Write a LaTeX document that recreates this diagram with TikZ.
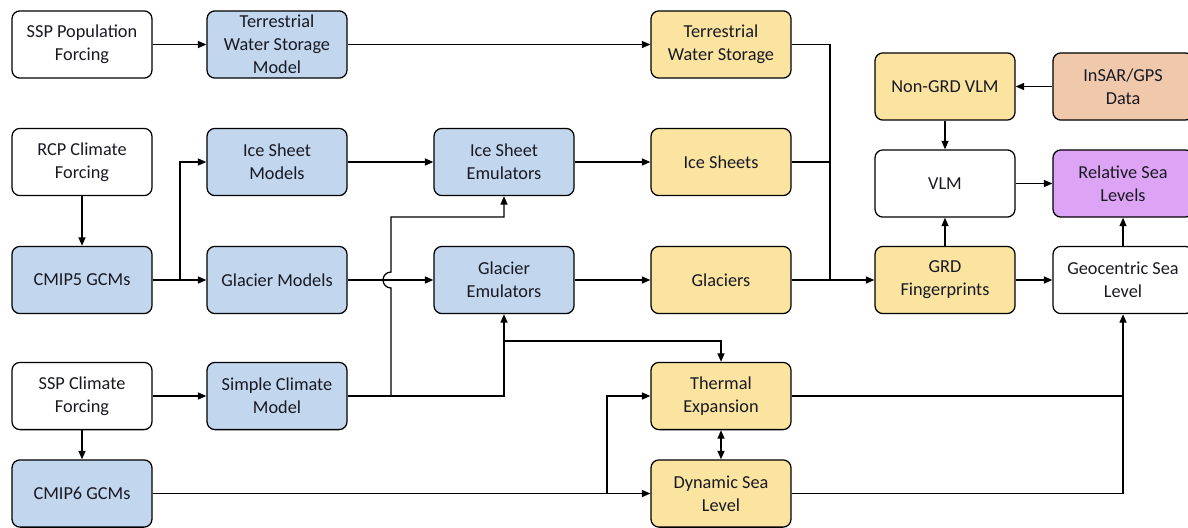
\documentclass[tikz,border=0pt]{standalone}
\usepackage{fontspec}
\setmainfont{Carlito}
\usepackage{xcolor}
\usetikzlibrary{arrows.meta,positioning}

\definecolor{modblue}{RGB}{194,215,238}
\definecolor{outyellow}{RGB}{250,228,160}
\definecolor{datapeach}{RGB}{240,201,172}
\definecolor{rslpurple}{RGB}{221,164,245}
\definecolor{inktext}{RGB}{25,25,35}

\begin{document}
\begin{tikzpicture}[
  x=0.025cm, y=0.025cm,
  box/.style={rectangle, draw, rounded corners=0.2cm, line width=0.9pt,
    align=center, minimum width=3.5cm, minimum height=1.68cm, inner sep=1pt,
    text=inktext, font=\fontsize{13}{16.3}\selectfont},
  forcing/.style={box, fill=white},
  model/.style={box, fill=modblue},
  output/.style={box, fill=outyellow},
  obs/.style={box, fill=datapeach},
  final/.style={box, fill=rslpurple},
  link/.style={line width=0.9pt},
  >={Triangle[length=6pt,width=5pt]}
]
  \useasboundingbox (0,0) rectangle (1188,-527);

  % inputs
  \node[forcing] (SPF) at (82,-44.5) {SSP Population\\Forcing};
  \node[forcing] (RCP) at (82,-162) {RCP Climate\\Forcing};
  \node[model] (C5) at (82,-280) {CMIP5 GCMs};
  \node[forcing] (SCF) at (82,-396) {SSP Climate\\Forcing};
  \node[model] (C6) at (82,-493.5) {CMIP6 GCMs};

  % models
  \node[model] (TWM) at (277,-44.5) {Terrestrial\\Water Storage\\Model};
  \node[model] (ISM) at (277,-162) {Ice Sheet\\Models};
  \node[model] (GM) at (277,-280) {Glacier Models};
  \node[model] (SCM) at (277,-396) {Simple Climate\\Model};

  % emulators
  \node[model] (ISE) at (504,-162) {Ice Sheet\\Emulators};
  \node[model] (GE) at (504,-280) {Glacier\\Emulators};

  % contributions
  \node[output] (TWS) at (721,-44.5) {Terrestrial\\Water Storage};
  \node[output] (IS) at (721,-162) {Ice Sheets};
  \node[output] (GL) at (721,-280) {Glaciers};
  \node[output] (TE) at (721,-396) {Thermal\\Expansion};
  \node[output] (DSL) at (721,-493.5) {Dynamic Sea\\Level};

  % sea level
  \node[output] (NGV) at (945,-86.5) {Non-GRD VLM};
  \node[forcing] (VLM) at (945,-183.5) {VLM};
  \node[output] (GRD) at (945,-280) {GRD\\Fingerprints};
  \node[obs] (INS) at (1123,-86.5) {InSAR/GPS\\Data};
  \node[final] (RSL) at (1123,-183.5) {Relative Sea\\Levels};
  \node[forcing] (GSL) at (1123,-280) {Geocentric Sea\\Level};

  % junctions
  \coordinate (c5br) at (180,-280);
  \coordinate (hopA) at (391,-396);
  \coordinate (hopB) at (391,-288);
  \coordinate (hopC) at (391,-217);
  \coordinate (scbr) at (504,-341);
  \coordinate (c6br) at (607,-494);
  \coordinate (grdjn) at (830,-280);

  \draw[link,->] (SPF) -- (TWM);
  \draw[link,->] (TWM) -- (TWS);
  \draw[link,->] (RCP) -- (C5);
  \draw[link,->] (C5) -- (GM);
  \draw[link,->] (c5br) |- (ISM);
  \draw[link,->] (ISM) -- (ISE);
  \draw[link,->] (GM) -- (GE);
  \draw[link,->] (ISE) -- (IS);
  \draw[link,->] (GE) -- (GL);
  \draw[link,->] (SCF) -- (SCM);
  \draw[link,->] (SCF) -- (C6);
  \draw[link,->] (SCM) -| (GE);
  \draw[link,->] (hopA) -- (hopB) arc[start angle=270, end angle=90, radius=0.2cm]
    -- (hopC) -| (ISE);
  \draw[link,->] (scbr) -| (TE);
  \draw[link,->] (C6) -- (DSL);
  \draw[link,->] (c6br) |- (TE);
  \draw[link,<->] (TE) -- (DSL);
  \draw[link] (TWS) -| (grdjn);
  \draw[link] (IS) -| (grdjn);
  \draw[link,->] (GL) -- (GRD);
  \draw[link] (TE) -- (TE -| GSL);
  \draw[link,->] (DSL) -| (GSL);
  \draw[link,->] (GRD) -- (GSL);
  \draw[link,->] (GRD) -- (VLM);
  \draw[link,->] (NGV) -- (VLM);
  \draw[link,->] (INS) -- (NGV);
  \draw[link,->] (VLM) -- (RSL);
  \draw[link,->] (GSL) -- (RSL);
\end{tikzpicture}
\end{document}
